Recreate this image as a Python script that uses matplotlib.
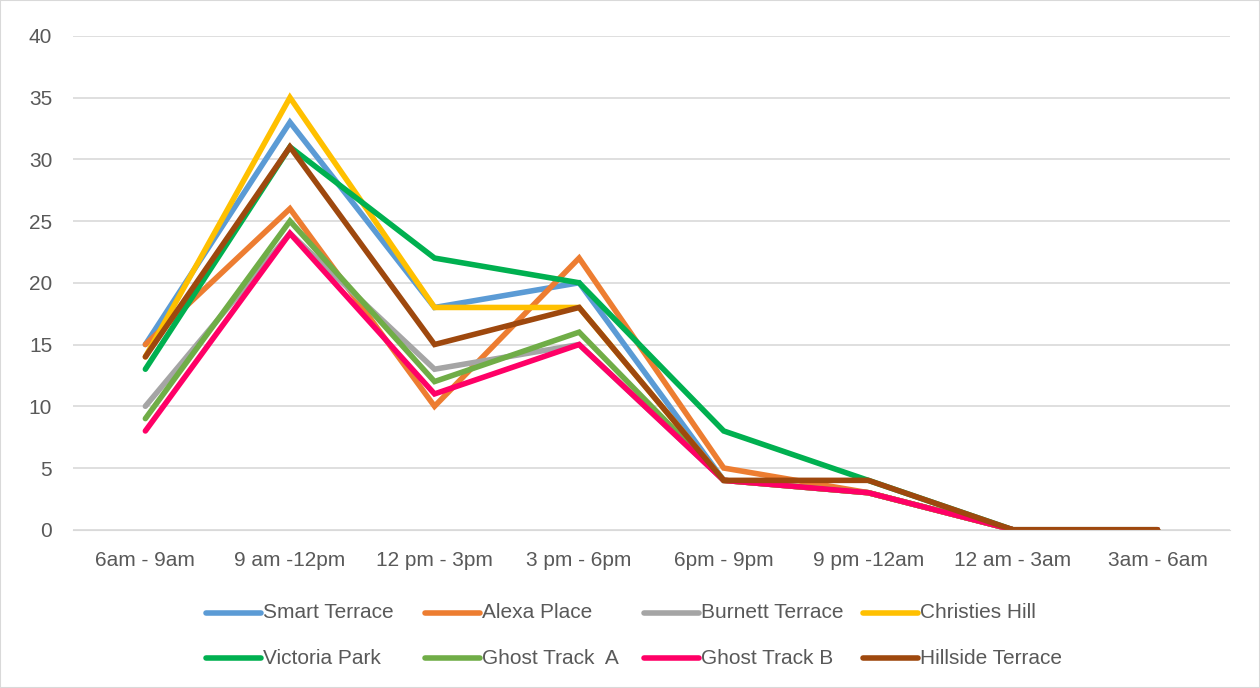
import matplotlib.pyplot as plt
from matplotlib.lines import Line2D

periods = ["6am - 9am", "9 am -12pm", "12 pm - 3pm", "3 pm - 6pm",
           "6pm - 9pm", "9 pm -12am", "12 am - 3am", "3am - 6am"]

smart_terrace = [15, 33, 18, 20, 4, 3, 0, 0]
alexa_place = [15, 26, 10, 22, 5, 3, 0, 0]
burnett_terrace = [10, 24, 13, 15, 4, 3, 0, 0]
christies_hill = [14, 35, 18, 18, 4, 3, 0, 0]
victoria_park = [13, 31, 22, 20, 8, 4, 0, 0]
ghost_track_a = [9, 25, 12, 16, 4, 3, 0, 0]
ghost_track_b = [8, 24, 11, 15, 4, 3, 0, 0]
hillside_terrace = [14, 31, 15, 18, 4, 4, 0, 0]

series = [
    ("Smart Terrace", smart_terrace, "#5B9BD5"),
    ("Alexa Place", alexa_place, "#ED7D31"),
    ("Burnett Terrace", burnett_terrace, "#A5A5A5"),
    ("Christies Hill", christies_hill, "#FFC000"),
    ("Victoria Park", victoria_park, "#00B050"),
    ("Ghost Track  A", ghost_track_a, "#70AD47"),
    ("Ghost Track B", ghost_track_b, "#FF0066"),
    ("Hillside Terrace", hillside_terrace, "#9E480E"),
]

plt.rcParams["font.family"] = ["Liberation Sans", "DejaVu Sans"]
text_color = "#595959"
W, H = 1260, 688

fig = plt.figure(figsize=(12.6, 6.88), dpi=100)
ax = fig.add_axes([0.058, 0.230, 0.918, 0.718])

x = list(range(len(periods)))
for name, vals, color in series:
    ax.plot(x, vals, color=color, linewidth=4, label=name,
            solid_joinstyle="miter", solid_capstyle="round")

ax.set_xlim(-0.5, len(periods) - 0.5)
ax.set_ylim(0, 40)
ax.set_yticks(range(0, 41, 5))
ax.set_xticks(x)
ax.set_xticklabels(periods)
ax.grid(axis="y", color="#D9D9D9", linewidth=1.2)
ax.set_axisbelow(True)
for side in ["top", "right", "left"]:
    ax.spines[side].set_visible(False)
ax.spines["bottom"].set_color("#D9D9D9")
ax.tick_params(length=0, labelsize=15, colors=text_color)
ax.tick_params(axis="x", pad=15)
ax.tick_params(axis="y", pad=15)

# legend laid out like Excel: 4 equal-width columns, row by row
for i, (name, _, color) in enumerate(series):
    col, row = i % 4, i // 4
    x0 = (206 + 219 * col) / W
    y0 = 1 - (613 + 45 * row) / H
    fig.add_artist(Line2D([x0, x0 + 55 / W], [y0, y0], transform=fig.transFigure,
                          color=color, linewidth=4, solid_capstyle="round"))
    fig.text(x0 + 57 / W, y0, name, va="center", ha="left",
             fontsize=15, color=text_color)

border = plt.Rectangle((0, 0), 1, 1, transform=fig.transFigure, fill=False,
                       edgecolor="#D9D9D9", linewidth=1.5)
fig.patches.append(border)

fig.savefig("out.png", dpi=100)
